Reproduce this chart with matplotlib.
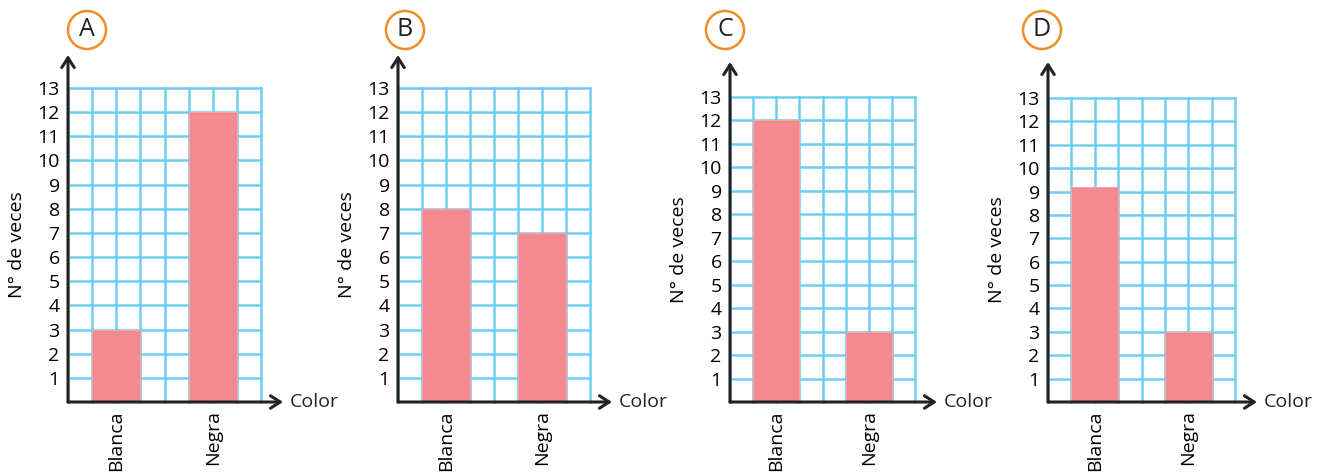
import matplotlib.pyplot as plt
from matplotlib.patches import Circle

plt.rcParams['font.family'] = ['Open Sans', 'DejaVu Sans']

colors = ['Blanca', 'Negra']
letters = ['A', 'B', 'C', 'D']
values_a = [3, 12]
values_b = [8, 7]
values_c = [12, 3]
values_d = [9.2, 3]
values = [values_a, values_b, values_c, values_d]

bar_color = '#F28A8F'
grid_color = '#6ECEF2'
ink = '#222222'
orange = '#F08C2A'

W, H = 1328, 472
fig = plt.figure(figsize=(W / 100, H / 100), dpi=100)

# pixel boxes: left, right, top, bottom of the grid; arrow tip y; circle centre x
boxes = [
    (68, 261, 88, 402, 55, 87),
    (398, 590, 88, 402, 55, 405),
    (730, 915, 97, 402, 62, 725),
    (1048, 1235, 98, 402, 62, 1042),
]

for (l, r, t, b, tip, cx), vals, letter in zip(boxes, values, letters):
    ax = fig.add_axes([l / W, (H - b) / H, (r - l) / W, (b - t) / H])
    ax.set_xlim(0, 8)
    ax.set_ylim(0, 13)
    ax.set_axisbelow(True)
    ax.bar([2, 6], vals, width=2, color=bar_color, edgecolor='#F4A3A7',
           linewidth=0.8, zorder=2)

    ax.xaxis.remove_overlapping_locs = False
    ax.set_xticks(range(0, 9), minor=True)
    ax.set_xticks([2, 6])
    ax.set_xticklabels(colors, rotation=90, fontsize=14, va='top')
    ax.set_yticks(range(1, 14))
    ax.set_yticklabels([str(i) for i in range(1, 14)], fontsize=14)
    ax.tick_params(which='both', length=0)
    ax.tick_params(axis='y', pad=6)
    ax.tick_params(axis='x', pad=6)
    ax.grid(axis='y', color=grid_color, linewidth=1.8)
    ax.grid(axis='x', which='minor', color=grid_color, linewidth=1.8)
    ticks = ax.xaxis.get_minor_ticks() + ax.yaxis.get_major_ticks()
    for tk in ticks:
        tk.gridline.set_clip_on(False)
    for s in ax.spines.values():
        s.set_visible(False)

    ax.set_ylabel('N° de veces', fontsize=14, labelpad=8)

    # axis arrows
    ytip = (b - tip) / (b - t)
    xtip = 1 + 22 / (r - l)
    style = '->,head_length=0.7,head_width=0.45'
    ax.annotate('', xy=(0, ytip), xytext=(0, 0), xycoords='axes fraction',
                arrowprops=dict(arrowstyle=style, color=ink, lw=2.2,
                                shrinkA=0, shrinkB=0))
    ax.annotate('', xy=(xtip, 0), xytext=(0, 0), xycoords='axes fraction',
                arrowprops=dict(arrowstyle=style, color=ink, lw=2.2,
                                shrinkA=0, shrinkB=0))
    ax.text(xtip + 0.035, 0, 'Color', transform=ax.transAxes, fontsize=14,
            ha='left', va='center', color=ink)

    # letter badge
    fig.patches.append(Circle((cx / 100, (H - 30) / 100), 0.19,
                              transform=fig.dpi_scale_trans,
                              facecolor='white', edgecolor=orange, lw=1.8))
    fig.text(cx / W, (H - 30) / H, letter, fontsize=18, ha='center', va='center',
             color=ink)

fig.savefig('out.png', dpi=100)
